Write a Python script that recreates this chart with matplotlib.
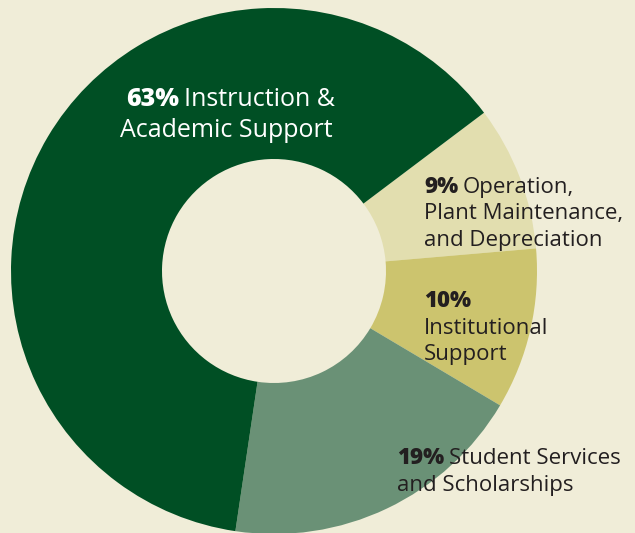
"""Donut chart of expense shares by functional category."""

import matplotlib.pyplot as plt

# Share of expenses, listed clockwise from the upper right
categories = [
    "Operation, Plant Maintenance, and Depreciation",
    "Institutional Support",
    "Student Services and Scholarships",
    "Instruction & Academic Support",
]
shares = [9, 10, 19, 63]
colors = ["#E2DEAF", "#CCC46E", "#6A9176", "#004F24"]

BG = "#F0EDD8"
INK = "#231F20"

W, H = 635, 533
plt.rcParams["font.family"] = ["Open Sans", "DejaVu Sans"]

fig = plt.figure(figsize=(W / 100, H / 100), dpi=100, facecolor=BG)
ax = fig.add_axes([0, 0, 1, 1])

cx, cy = 274, H - 271
r_out, r_in = 263, 112
ax.pie(
    shares,
    colors=colors,
    startangle=37,
    counterclock=False,
    center=(cx, cy),
    radius=r_out,
    wedgeprops={"width": r_out - r_in, "linewidth": 0},
    frame=True,
)
ax.set_xlim(0, W)
ax.set_ylim(0, H)
ax.set_aspect("equal")
ax.axis("off")


def label(x, y, pct, lines, color, size, gap):
    """Bold percentage followed by regular text, one row per entry in lines."""
    first = lines[0]
    t = ax.text(x, H - y, f"{pct}%", fontsize=size, fontweight=800,
                color=color, va="baseline", ha="left")
    fig.canvas.draw()
    bb = t.get_window_extent()
    if first:
        ax.text(bb.x1 + size * 0.3, H - y, first, fontsize=size, color=color,
                va="baseline")
    for i, line in enumerate(lines[1:], start=1):
        ax.text(x, H - y - gap * i, line, fontsize=size, color=color,
                va="baseline")


label(126, 106, shares[3], ["Instruction &"], "white", 18, 31)
ax.text(120, H - 137, "Academic Support", fontsize=18, color="white",
        va="baseline")

label(424, 193, shares[0], ["Operation,", "Plant Maintenance,",
                            "and Depreciation"], INK, 16, 26.5)
label(424, 307, shares[1], ["", "Institutional", "Support"], INK, 16, 26.5)
label(397, 464, shares[2], ["Student Services", "and Scholarships"],
      INK, 16, 26.5)

fig.savefig("out.png", dpi=100, facecolor=BG)
